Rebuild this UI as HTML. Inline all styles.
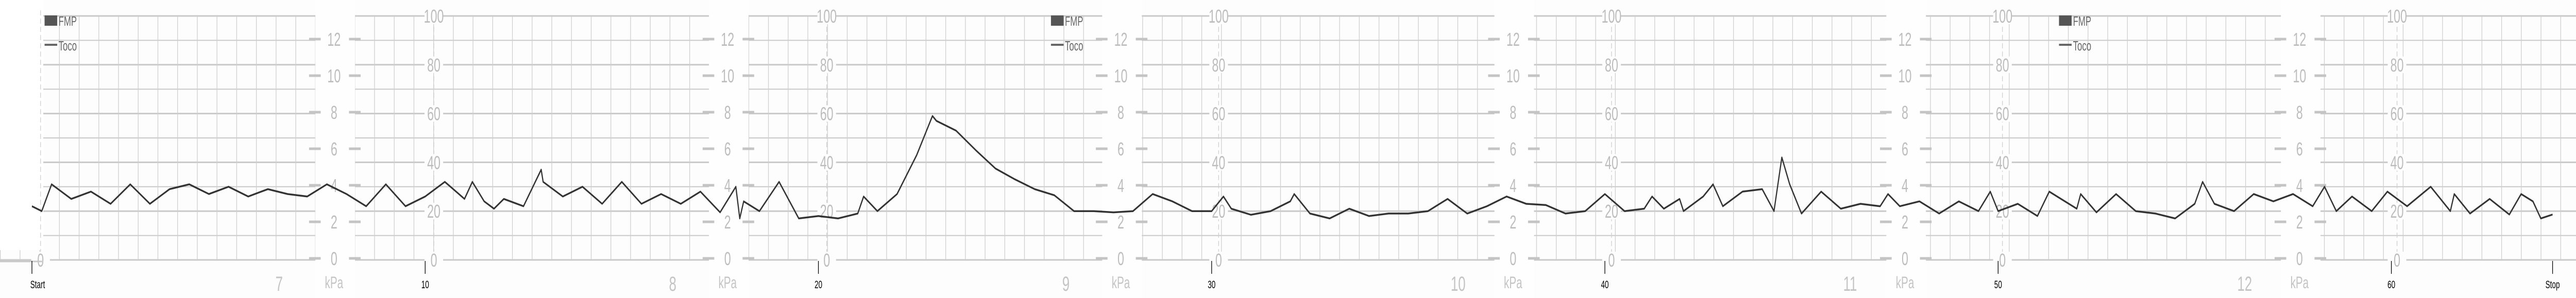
<!DOCTYPE html>
<html><head><meta charset="utf-8"><style>
html,body{margin:0;padding:0;background:#fff;width:100%;height:100%;overflow:hidden;}
svg{display:block;width:100vw;height:100vh;}
text{font-family:"Liberation Sans",sans-serif;}
</style></head><body>
<svg id="chart" viewBox="0 0 7743 579" preserveAspectRatio="none" xmlns="http://www.w3.org/2000/svg">
<rect x="0" y="0" width="7743" height="579" fill="#fdfdfd"/>
<g id="grid"></g>
<g id="scales"></g>
<g id="legends"></g>
<g id="trace"></g>
<g id="xaxis"></g>
</svg>
<script>
// ---- data ----
const tocoMinutes = [0,0.25,0.5,1,1.5,2,2.5,3,3.5,4,4.5,5,5.5,6,6.5,7,7.5,8,8.5,9,9.5,10,10.5,11,11.2,11.5,11.75,12,12.5,12.95,13,13.5,14,14.5,15,15.5,16,16.5,17,17.5,17.9,18,18.1,18.5,19,19.5,20,20.5,21,21.15,21.5,22,22.5,22.9,23,23.5,24,24.5,25,25.5,26,26.5,27,27.5,28,28.5,29,29.5,30,30.3,30.5,31,31.5,32,32.1,32.5,33,33.5,34,34.5,35,35.5,36,36.5,37,37.5,38,38.5,39,39.5,40,40.5,41,41.2,41.5,41.9,42,42.5,42.75,43,43.5,44,44.3,44.5,44.7,45,45.5,46,46.5,47,47.2,47.5,48,48.5,49,49.5,49.8,50,50.5,51,51.3,52,52.1,52.5,53,53.5,54,54.5,55,55.2,55.5,56,56.5,57,57.5,58,58.3,58.6,59,59.5,59.9,60.4,61,61.5,61.6,62,62.5,63,63.3,63.6,63.8,64.1];
const tocoValues = [22,20,31,25,28,23,31,23,29,31,27,30,26,29,27,26,31,27,22,31,22,26,32,25,32,24,21,25,22,37,32,26,30,23,32,23,27,23,28,19.5,30,17,24,20,32,17,18,17,19,26,20,27,43,59,57,53,45,37.5,33,29,26.5,20,20,19.5,20,27,24,20,20,26,21,18.5,20,24,27,19,17,21,18,19,19,20,25,19,22,26,23,22.5,19,20,27,20,21,26,21,25,20,26,31,22,28,29,20,42,31,19,28,21,23,22,27,22,24,19,24,20,28,20,23,18,28,21,27,19.5,27,20,19,17,23,32,23,20,27,24,27,22,30,20,26,20,28,22,30,20,27,19,25,18.6,27,24,17,18.6];
const minuteTicks = [0,10,20,30,40,50,60,64.1];
const minuteLabels = ["Start","10","20","30","40","50","60","Stop"];
const tocoScaleLabels = [0,20,40,60,80,100];
const kpaLabels = [0,2,4,6,8,10,12];
const pageNumbers = ["7","8","9","10","11","12"];

// ---- axis functions ----
const xOf = m => 96 + m * 118.2;
const yOf = v => 505 - v * 4.74;
const yKpa = k => 502 - k * 35.5;
const NS = "http://www.w3.org/2000/svg";
function mk(tag, attrs, parent){const e=document.createElementNS(NS,tag);for(const k in attrs)e.setAttribute(k,attrs[k]);parent.appendChild(e);return e;}

const grid = document.getElementById('grid');
const scales = document.getElementById('scales');
const legends = document.getElementById('legends');
const trace = document.getElementById('trace');
const xaxis = document.getElementById('xaxis');

for (let v = 0; v <= 100; v += 10) {
  const l = mk('line',{x1:0,x2:7743,y1:yOf(v),y2:yOf(v),stroke:'#c9c9c9','stroke-width':(v%20===0)?3:2},grid);
  
  
}
for (let x = 178.6 - 59.2*3; x < 7743; x += 59.2) {
  const l = mk('line',{x1:x,x2:x,y1:yOf(100),y2:yOf(0),stroke:'#cfcfcf','stroke-width':2},grid);
  
  
}
const corner = mk('rect',{x:0,y:0,width:130,height:486,fill:'#ffffff'},grid);



const kpaCols = [1004,2187,3369,4548,5726,6912];
kpaCols.forEach((xk,i)=>{
  const r = mk('rect',{x:xk-56,y:0,width:119,height:579,fill:'#fefefe'},scales);
  
  
  kpaLabels.forEach(k=>{
    const y = yKpa(k);
    mk('line',{x1:xk-75,x2:xk-40,y1:y,y2:y,stroke:'#c4c4c4','stroke-width':5},scales);
    mk('line',{x1:xk+45,x2:xk+80,y1:y,y2:y,stroke:'#c4c4c4','stroke-width':5},scales);
    const t = mk('text',{x:xk,y:y+13,'text-anchor':'middle','font-size':36,fill:'#bdbdbd'},scales);
    t.textContent = k;
    
    
  });
  const u = mk('text',{x:xk,y:560,'text-anchor':'middle','font-size':32,fill:'#c4c4c4'},scales);
  u.textContent='kPa';
  
  
  const pn = mk('text',{x:xk-165,y:565,'text-anchor':'middle','font-size':40,fill:'#c4c4c4'},scales);
  pn.textContent = pageNumbers[i];
  
  
});

const scaleCols = [122,1304,2485,3663,4844,6019,7205];
scaleCols.forEach(xs=>{
  mk('line',{x1:xs,x2:xs,y1:20,y2:510,stroke:'#cfcfcf','stroke-width':2,'stroke-dasharray':'10,6'},scales);
  tocoScaleLabels.forEach(v=>{
    if (xs < 200 && v > 0) return;
    const y = yOf(v);
    mk('rect',{x:xs-28,y:y-16,width:56,height:32,fill:'#fdfdfd'},scales);
    const t = mk('text',{x:xs,y:y+13,'text-anchor':'middle','font-size':36,fill:'#bdbdbd'},scales);
    t.textContent = v;
    
    
  });
});

[134,3159,6189].forEach(lx=>{
  const g = mk('g',{},legends);
  
  
  mk('rect',{x:lx,y:30,width:38,height:20,fill:'#555'},g);
  const t1 = mk('text',{x:lx+42,y:50,'font-size':26,fill:'#666'},g);
  t1.textContent='FMP';
  
  
  mk('line',{x1:lx,x2:lx+38,y1:87,y2:87,stroke:'#666','stroke-width':4},g);
  const t2 = mk('text',{x:lx+42,y:98,'font-size':26,fill:'#666'},g);
  t2.textContent='Toco';
  
  
});

let d='';
tocoMinutes.forEach((m,i)=>{ d += (i?'L':'M') + xOf(m).toFixed(1) + ',' + yOf(tocoValues[i]).toFixed(1); });
const p = mk('path',{d:d,fill:'none',stroke:'#333','stroke-width':3.5,'stroke-linejoin':'round'},trace);



mk('line',{x1:0,x2:130,y1:508,y2:508,stroke:'#c9c9c9','stroke-width':3},xaxis);
minuteTicks.forEach((m,i)=>{
  const x = xOf(m);
  mk('line',{x1:x,x2:x,y1:507,y2:532,stroke:'#000','stroke-width':2},xaxis);
  const t = mk('text',{x:(i===0?x-5:x),y:560,'text-anchor':(i===0?'start':'middle'),'font-size':21,fill:'#000'},xaxis);
  t.textContent = minuteLabels[i];
  
  
});
</script>
</body></html>
